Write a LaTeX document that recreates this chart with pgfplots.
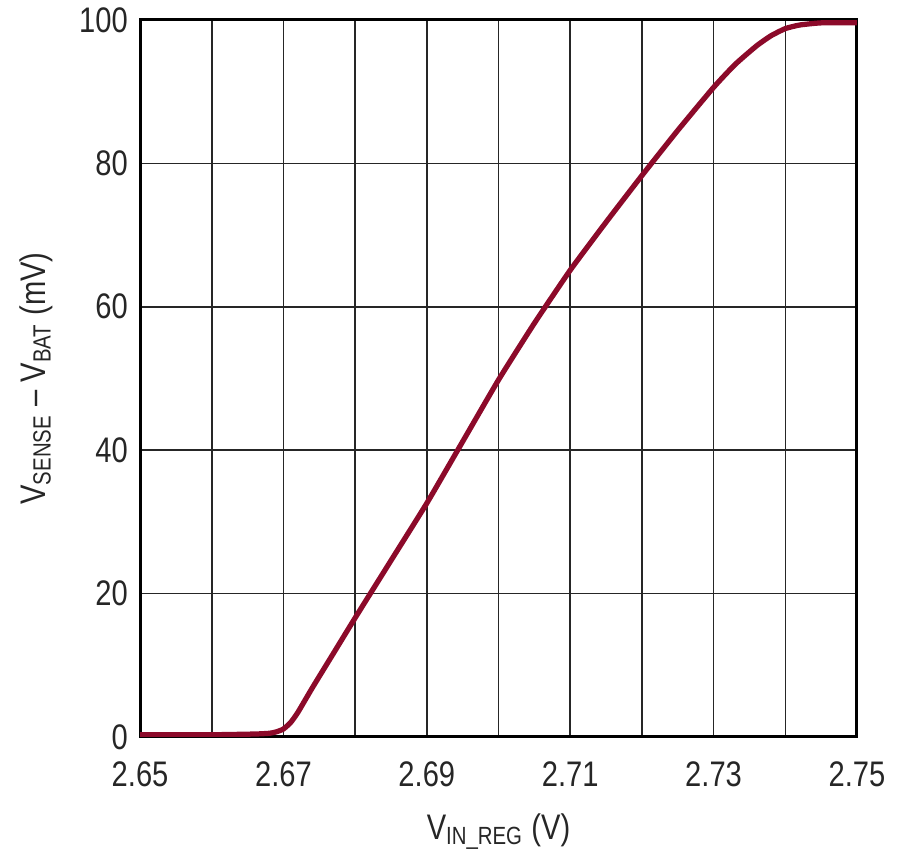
\documentclass[border=0pt]{standalone}
\usepackage{fontspec}
\setmainfont{Liberation Sans}[FakeStretch=0.82]
\usepackage{pgfplots}
\pgfplotsset{compat=1.18}
\definecolor{curve}{HTML}{8C0A2A}

\begin{document}
\fontsize{14.2}{17}\selectfont
\begin{tikzpicture}
\begin{axis}[
  width=286.6pt, height=286.6pt, scale only axis,
  xmin=2.65, xmax=2.75, ymin=0, ymax=100,
  xtick={2.65,2.67,2.69,2.71,2.73,2.75},
  xticklabels={2.65,2.67,2.69,2.71,2.73,2.75},
  minor xtick={2.66,2.68,2.70,2.72,2.74},
  ytick={0,20,40,60,80,100},
  grid=both,
  major grid style={draw=black!85, line width=0.6pt},
  minor grid style={draw=black!85, line width=0.6pt},
  axis line style={line width=1.2pt},
  major tick length=0pt, minor tick length=0pt,
  tick label style={font=\fontsize{14.2}{17}\selectfont, text=black!85},
  /pgf/number format/assume math mode=true,
  xticklabel style={yshift=-5pt},
  yticklabel style={xshift=0pt},
  xlabel={V\textsubscript{IN\_REG} (V)},
  ylabel={V\textsubscript{SENSE} – V\textsubscript{BAT} (mV)},
  label style={font=\fontsize{14.2}{17}\selectfont, text=black!85},
  xlabel style={yshift=-1pt},
  ylabel style={yshift=1pt},
]
\addplot[curve, line width=2.1pt, smooth, tension=0.3] table {
x y
2.650 0.3
2.660 0.3
2.666 0.4
2.668 0.5
2.669 0.7
2.670 1.1
2.671 2.0
2.672 3.4
2.674 6.8
2.677 11.7
2.680 16.6
2.685 24.6
2.690 32.6
2.695 41.2
2.700 49.8
2.705 57.7
2.710 65.1
2.715 71.8
2.720 78.3
2.725 84.6
2.730 90.6
2.733 93.8
2.736 96.4
2.738 97.8
2.740 98.8
2.742 99.3
2.745 99.6
2.750 99.6
};
\end{axis}
\pgfresetboundingbox
\path[use as bounding box] ([shift={(-56pt,-50pt)}]current axis.south west) rectangle ([shift={(17.2pt,8pt)}]current axis.north east);
\end{tikzpicture}
\end{document}
